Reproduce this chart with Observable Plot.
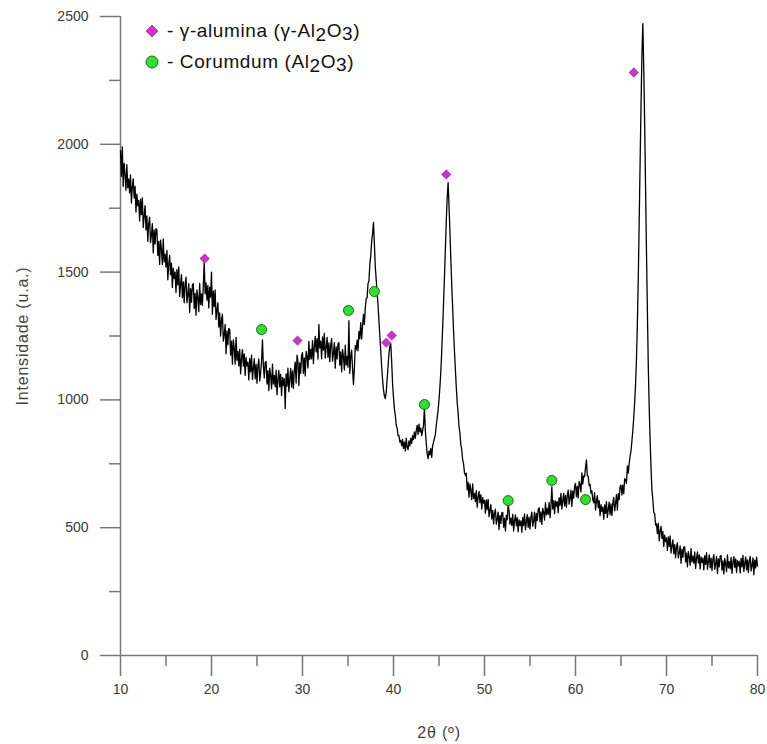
<!DOCTYPE html>
<html>
<head>
<meta charset="utf-8">
<script src="https://cdn.jsdelivr.net/npm/d3@7"></script>
<script src="https://cdn.jsdelivr.net/npm/@observablehq/plot@0.6"></script>
<style>
  html, body { margin: 0; padding: 0; background: white; }
  #wrap { position: relative; width: 767px; height: 744px; }
  #wrap svg text { font-family: 'Liberation Sans', Arial, sans-serif; }
  g[aria-label="x-axis label"] text, g[aria-label="y-axis label"] text { font-size: 16px; letter-spacing: 0.8px; fill: #444; }
  #legend { position: absolute; left: 0; top: 0; }
</style>
</head>
<body>
<div id="wrap"></div>
<script>
// XRD scan: 2θ from 10° to 80°, step 0.1° (one row per degree)
const scanStart = 10;
const scanStep = 0.1;
const intensity = [
  1975,1875,1990,1835,1925,1885,1820,1920,1830,1865,
  1810,1880,1770,1835,1865,1790,1835,1735,1805,1760,
  1780,1700,1785,1725,1790,1675,1720,1760,1665,1720,
  1620,1690,1715,1615,1645,1690,1575,1665,1610,1670,
  1665,1565,1620,1530,1625,1590,1530,1630,1540,1570,
  1520,1585,1470,1530,1565,1490,1535,1440,1515,1475,
  1500,1420,1510,1450,1520,1405,1450,1490,1400,1462,
  1380,1453,1480,1380,1410,1455,1343,1435,1382,1450,
  1455,1358,1417,1331,1430,1400,1345,1456,1373,1415,
  1370,1447,1540,1415,1458,1390,1447,1360,1440,1402,
  1500,1335,1425,1365,1430,1315,1350,1380,1285,1340,
  1250,1315,1335,1230,1255,1295,1180,1270,1215,1280,
  1275,1175,1230,1140,1235,1200,1140,1245,1155,1190,
  1133,1198,1102,1163,1197,1132,1180,1096,1166,1133,
  1148,1078,1162,1110,1176,1080,1123,1161,1082,1139,
  1065,1132,1160,1074,1105,1150,1235,1133,1086,1147,
  1150,1062,1114,1036,1124,1095,1043,1140,1062,1096,
  1051,1116,1020,1081,1115,1051,1100,1017,1088,1056,
  1083,966,1102,1054,1124,1032,1080,1123,1050,1113,
  1045,1116,1148,1066,1175,1150,1056,1145,1104,1173,
  1185,1104,1164,1094,1190,1169,1125,1229,1158,1198,
  1161,1232,1142,1209,1248,1188,1240,1160,1295,1203,
  1230,1161,1246,1194,1260,1164,1207,1245,1166,1223,
  1149,1214,1240,1152,1181,1224,1124,1207,1160,1221,
  1224,1136,1188,1110,1198,1169,1117,1214,1136,1170,
  1128,1310,1104,1169,1195,1122,1060,1120,1212,1196,
  1234,1192,1268,1240,1302,1238,1289,1335,1295,1361,
  1395,1400,1455,1465,1530,1565,1620,1650,1694,1610,
  1520,1470,1420,1370,1310,1250,1190,1130,1080,1040,
  1015,1005,1030,1080,1130,1180,1210,1220,1150,1060,
  1010,965,940,900,890,860,860,835,842,820,
  845,810,835,800,850,815,805,840,820,850,
  830,860,845,875,850,880,900,865,905,875,
  890,860,880,900,970,880,830,790,770,800,
  785,810,775,820,835,850,865,900,930,960,
  1000,1050,1110,1190,1280,1380,1480,1590,1700,1790,
  1850,1760,1660,1550,1450,1360,1270,1190,1120,1050,
  990,950,895,870,825,805,765,750,715,705,
  713,648,677,619,671,648,610,671,615,634,
  602,645,580,620,642,598,629,573,619,596,
  607,557,609,571,611,543,568,590,534,568,
  515,557,573,514,533,561,493,548,517,558,
  560,502,537,487,548,531,590,566,514,537,
  509,552,487,527,550,507,539,484,531,509,
  527,482,540,508,554,492,523,551,501,541,
  495,541,561,506,529,561,497,556,528,572,
  578,523,562,513,576,560,530,598,550,576,
  552,599,539,584,660,573,606,555,605,584,
  602,559,618,587,634,573,605,634,585,626,
  580,627,647,592,615,647,583,643,616,662,
  673,621,662,616,681,668,640,714,671,703,
  700,735,765,705,700,665,670,635,645,610,
  597,637,569,606,625,578,606,547,590,564,
  580,533,589,556,602,540,571,600,551,593,
  548,597,619,566,593,629,569,633,610,660,
  667,628,666,633,692,688,673,742,714,750,
  780,800,840,880,930,990,1060,1160,1300,1480,
  1700,1930,2150,2350,2472,2300,2080,1830,1580,1350,
  1130,970,840,735,645,610,560,555,510,515,
  477,517,449,486,505,458,486,427,471,446,
  460,411,464,427,468,401,428,452,398,434,
  383,425,441,382,401,429,361,416,384,424,
  425,366,400,347,406,387,353,418,366,389,
  361,405,341,382,405,362,394,339,386,364,
  381,335,391,357,402,338,368,394,343,381,
  333,377,395,337,358,387,321,378,347,389,
  391,334,370,319,379,361,328,394,343,367,
  339,384,321,363,387,345,378,324,372,351,
  368,323,380,347,392,329,359,386,335,374,
  325,370,388,331,352,382,316,373,343,385,
  350
];

// Phase markers
const gammaAngles = [19.25, 29.45, 39.2, 39.8, 45.8, 66.4];
const gammaLevels = [1553, 1232, 1224, 1252, 1882, 2281];
const corundumAngles = [25.5, 35.05, 37.9, 43.4, 52.6, 57.4, 61.1];
const corundumLevels = [1275, 1350, 1424, 982, 606, 685, 610];

// Axis ticks
const xTicks = [10, 20, 30, 40, 50, 60, 70, 80];
const xMinorTicks = [15, 25, 35, 45, 55, 65, 75];
const yTicks = [0, 500, 1000, 1500, 2000, 2500];
const yMinorTicks = [250, 750, 1250, 1750, 2250];

const legendLabels = ["γ-alumina", "Corumdum"];

const scan = intensity.map((v, i) => ({t: +(scanStart + i * scanStep).toFixed(1), v}));
const gamma = gammaAngles.map((t, i) => ({t, v: gammaLevels[i]}));
const corundum = corundumAngles.map((t, i) => ({t, v: corundumLevels[i]}));

const axisColor = "#777777";
const textColor = "#3a3a3a";
const magenta = "#d32ed3";
const green = "#2ee02e";

const chart = Plot.plot({
  width: 767,
  height: 744,
  marginTop: 16,
  marginRight: 10,
  marginBottom: 89,
  marginLeft: 120,
  x: {domain: [10, 80]},
  y: {domain: [0, 2500]},
  style: {fontFamily: "'Liberation Sans', Arial, sans-serif", fontSize: "14px", color: textColor, background: "white"},
  marks: [
    Plot.ruleX([10], {stroke: axisColor, strokeWidth: 1.5}),
    Plot.ruleY([0], {stroke: axisColor, strokeWidth: 1.5}),
    Plot.axisX(xMinorTicks, {tickSize: 11, tickFormat: () => "", stroke: axisColor, strokeWidth: 1.5, label: null}),
    Plot.axisX(xTicks, {tickSize: 21, tickPadding: 8, stroke: axisColor, strokeWidth: 1.5, fill: textColor,
      label: "2θ (º)", labelAnchor: "center", labelArrow: "none", labelOffset: 82}),
    Plot.axisY(yMinorTicks, {tickSize: 11, tickFormat: () => "", stroke: axisColor, strokeWidth: 1.5, label: null}),
    Plot.axisY(yTicks, {tickSize: 20, tickPadding: 12, tickFormat: d3.format("d"), stroke: axisColor, strokeWidth: 1.5, fill: textColor,
      label: "Intensidade (u.a.)", labelAnchor: "center", labelArrow: "none", labelOffset: 104}),
    Plot.line(scan, {x: "t", y: "v", stroke: "black", strokeWidth: 1.3}),
    Plot.dot(gamma, {x: "t", y: "v", symbol: "diamond2", r: 4.2, fill: magenta, stroke: "#8a1d8a", strokeWidth: 0.6}),
    Plot.dot(corundum, {x: "t", y: "v", symbol: "circle", r: 5, fill: green, stroke: "#1d6a1d", strokeWidth: 1})
  ]
});

const wrap = document.getElementById("wrap");
wrap.appendChild(chart);

// Legend overlay (inside plot area, top-left)
const ns = "http://www.w3.org/2000/svg";
const leg = document.createElementNS(ns, "svg");
leg.setAttribute("id", "legend");
leg.setAttribute("width", "420");
leg.setAttribute("height", "90");
const tStyle = "font-family:'Liberation Sans', Arial, sans-serif; letter-spacing:0.6px";
leg.innerHTML = `
  <path d="M152,25 L158,31 L152,37 L146,31 Z" fill="${magenta}" stroke="#8a1d8a" stroke-width="0.6"/>
  <text x="167" y="37" font-size="19" fill="#111" style="${tStyle}">- ${legendLabels[0]} (γ-Al<tspan dy="4">2</tspan><tspan dy="-4">O</tspan><tspan dy="3">3</tspan><tspan dy="-3">)</tspan></text>
  <circle cx="152" cy="62" r="6" fill="${green}" stroke="#1d6a1d" stroke-width="1"/>
  <text x="167" y="68" font-size="19" fill="#111" style="${tStyle}">- ${legendLabels[1]} (Al<tspan dy="4">2</tspan><tspan dy="-4">O</tspan><tspan dy="3">3</tspan><tspan dy="-3">)</tspan></text>
`;
wrap.appendChild(leg);
</script>
</body>
</html>
